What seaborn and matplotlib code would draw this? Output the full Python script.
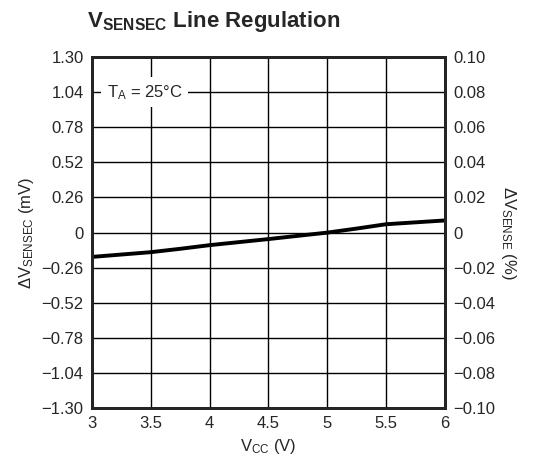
import numpy as np
import pandas as pd
import matplotlib
matplotlib.use("Agg")
import matplotlib.pyplot as plt
import seaborn as sns

# data
vcc = [3.0, 3.5, 3.75, 4.0, 4.5, 5.0, 5.25, 5.5, 6.0]
dv_sensec = [-0.18, -0.145, -0.12, -0.093, -0.048, 0.0, 0.03, 0.062, 0.09]

x_ticks = [3, 3.5, 4, 4.5, 5, 5.5, 6]
x_labels = ["3", "3.5", "4", "4.5", "5", "5.5", "6"]
y_ticks = [1.30, 1.04, 0.78, 0.52, 0.26, 0, -0.26, -0.52, -0.78, -1.04, -1.30]
y_labels = ["1.30", "1.04", "0.78", "0.52", "0.26", "0", "\u22120.26", "\u22120.52",
            "\u22120.78", "\u22121.04", "\u22121.30"]
y2_labels = ["0.10", "0.08", "0.06", "0.04", "0.02", "0", "\u22120.02", "\u22120.04",
             "\u22120.06", "\u22120.08", "\u22120.10"]

sns.set_style("white")
plt.rcParams['font.family'] = ['Liberation Sans Narrow', 'Liberation Sans', 'DejaVu Sans']
plt.rcParams['mathtext.fontset'] = 'custom'
plt.rcParams['mathtext.rm'] = 'Liberation Sans'
plt.rcParams['mathtext.it'] = 'Liberation Sans'
plt.rcParams['mathtext.bf'] = 'Liberation Sans:bold'

df = pd.DataFrame({"vcc": vcc, "dv": dv_sensec})

fig = plt.figure(figsize=(5.36, 4.68), dpi=100)
ax = fig.add_axes([0.1716, 0.128, 0.6586, 0.750])

sns.lineplot(data=df, x="vcc", y="dv", ax=ax, color="black", linewidth=2.8)

ax.set_xlim(3, 6)
ax.set_ylim(-1.3, 1.3)
ax.set_xticks(x_ticks)
ax.set_xticklabels(x_labels)
ax.set_yticks(y_ticks)
ax.set_yticklabels(y_labels)
ax.grid(True, color="black", linewidth=1.0)
ax.tick_params(axis="both", length=0, labelsize=12, pad=6)
for s in ax.spines.values():
    s.set_linewidth(2)
    s.set_color("black")

ax.set_xlabel(r"V$_{\mathrm{CC}}$ (V)", fontsize=12, labelpad=4)
ax.set_ylabel(r"$\Delta$V$_{\mathrm{SENSEC}}$ (mV)", fontsize=12, labelpad=4)

ax2 = ax.twinx()
ax2.set_ylim(-0.10, 0.10)
ax2.set_yticks(np.array(y_ticks) / 13.0)
ax2.set_yticklabels(y2_labels)
ax2.tick_params(axis="y", length=0, labelsize=12, pad=6)
for s in ax2.spines.values():
    s.set_linewidth(2)
ax2.set_ylabel(r"$\Delta$V$_{\mathrm{SENSE}}$ (%)", fontsize=12, rotation=270, labelpad=16)

ax.text(3.45, 1.04, r"T$_{\mathrm{A}}$ = 25" + "\u00b0C", fontsize=12, va="center",
        ha="center", zorder=5,
        bbox=dict(facecolor="white", edgecolor="none", pad=4))

fig.text(0.163, 0.955, r"$\mathbf{V_{SENSEC}}$ Line Regulation", fontsize=16,
         fontweight="bold", va="center", ha="left")

fig.savefig("out.png", dpi=100)
